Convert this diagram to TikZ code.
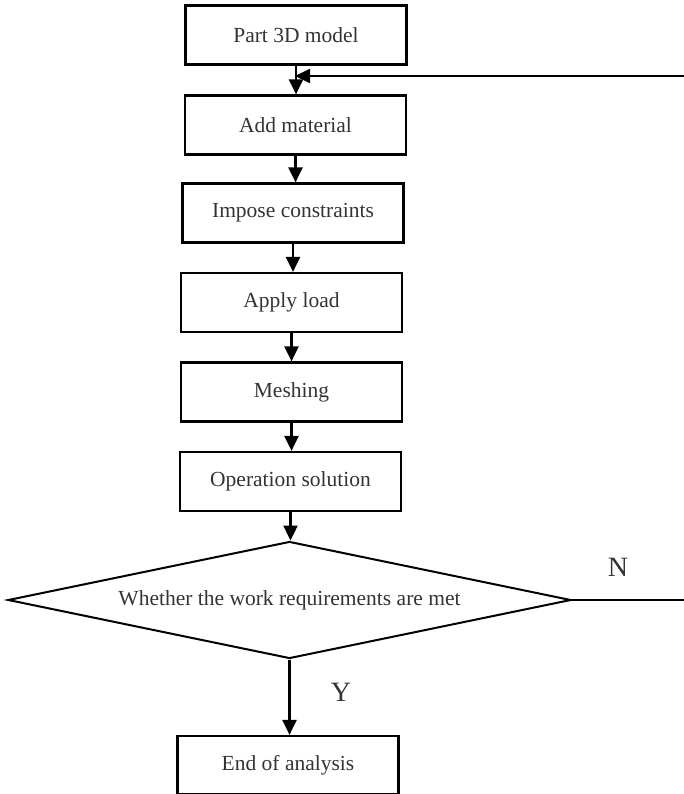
\documentclass[tikz,border=0pt]{standalone}
\usepackage{fontspec}
\setmainfont{Liberation Serif}
\usepackage{tikz}
\usetikzlibrary{shapes.geometric}
\usetikzlibrary{arrows.meta}
\tikzstyle{block}=[draw=black,line width=2.2pt,rectangle,minimum width=221pt,minimum height=59pt,inner sep=0pt,font=\fontsize{21.5}{25}\selectfont,text=black!80]
\tikzstyle{decision}=[draw=black,line width=2pt,diamond,shape aspect=4.8,minimum width=563pt,minimum height=117pt,inner sep=0pt,font=\fontsize{21.5}{25}\selectfont,text=black!80]
\tikzstyle{flow}=[line width=2.4pt,-{Triangle[width=14pt,length=15pt]}]
\tikzstyle{answer}=[font=\fontsize{28}{32}\selectfont,text=black!80]

\begin{document}
\begin{tikzpicture}[x=1pt,y=-1pt]
      \useasboundingbox (0,0) rectangle (683,794);
      \node[block] (model) at (296,35) {Part 3D model};
      \node[block] (material) at (295.5,125) {Add material};
      \node[block] (constr) at (293,213) {Impose constraints};
      \node[block] (load) at (291.5,302.5) {Apply load};
      \node[block] (mesh) at (291.5,392) {Meshing};
      \node[block] (solve) at (290.5,481.5) {Operation solution};
      \node[decision] (check) at (289.5,600) {Whether the work requirements are met};
      \node[block,minimum height=58pt] (finish) at (288,765) {End of analysis};

      \coordinate (join) at (295,76);
      \coordinate (back) at (685,76);

      \draw[flow] (model.south) -- (model.south |- material.north);
      \draw[flow] (material.south) -- (material.south |- constr.north);
      \draw[flow] (constr.south) -- (constr.south |- load.north);
      \draw[flow] (load.south) -- (load.south |- mesh.north);
      \draw[flow] (mesh.south) -- (mesh.south |- solve.north);
      \draw[flow] (solve.south) -- (solve.south |- check.north);
      \draw[flow] (check.south) -- (check.south |- finish.north);

      \draw[flow,line width=2pt] (check.east) -| (back) -- (join);

      \node[answer] at (618,567) {N};
      \node[answer] at (341,692) {Y};
    \end{tikzpicture}
\end{document}
